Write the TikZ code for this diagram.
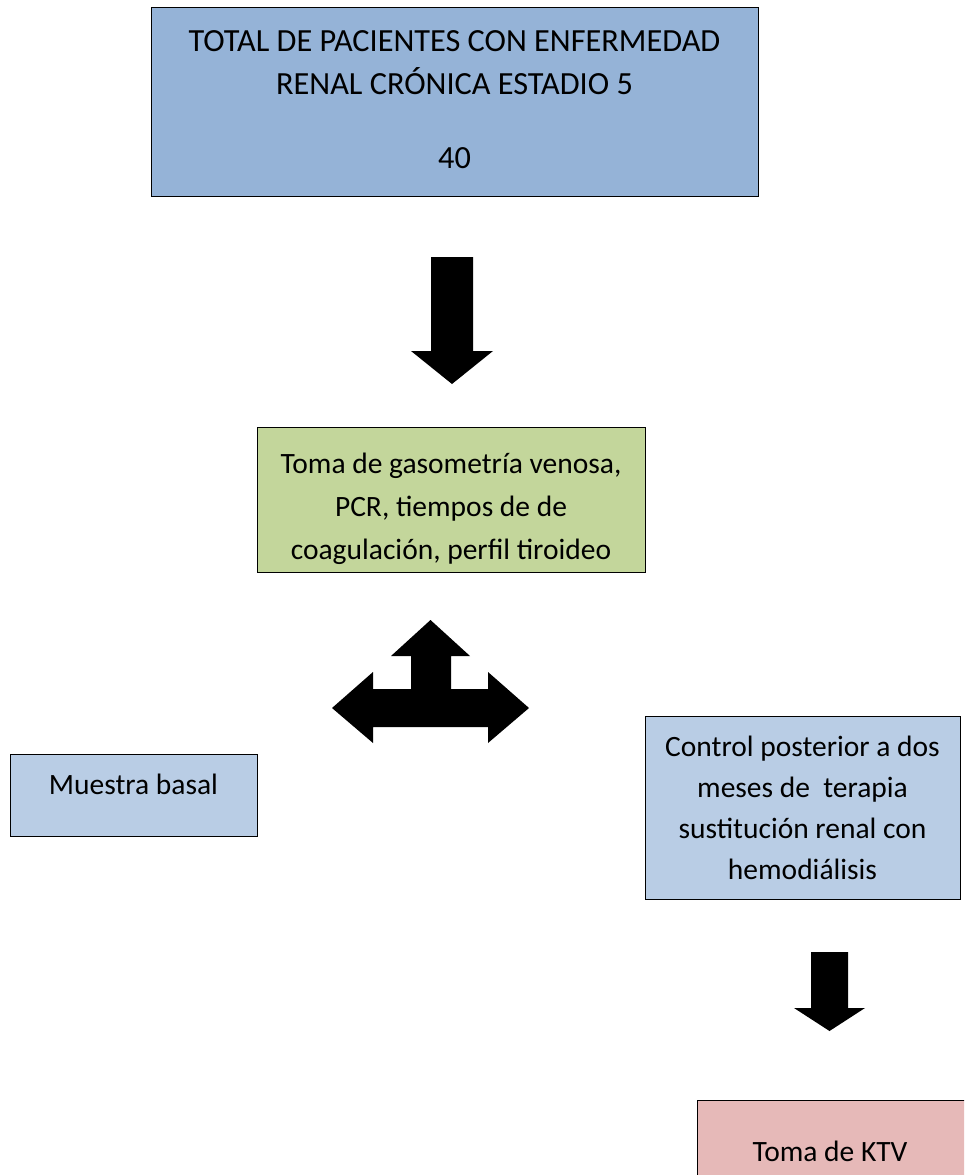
\documentclass[tikz,border=0pt]{standalone}
\usepackage{fontspec}
\setmainfont{Carlito}
\definecolor{topblue}{HTML}{95B3D7}
\definecolor{lightgreen}{HTML}{C3D69B}
\definecolor{lightblue}{HTML}{B9CDE5}
\definecolor{lightpink}{HTML}{E6B9B8}
\begin{document}
\begin{tikzpicture}[x=1pt,y=-1pt,
  box/.style={draw=black, line width=1.3pt, inner sep=0pt, anchor=north west},
  txt/.style={font=\fontsize{29.5}{43}\selectfont, align=center, inner sep=0pt, anchor=base},
  blockarrow/.style={fill=black, draw=none}]
\useasboundingbox (0,0) rectangle (964,1175);
\clip (0,0) rectangle (964,1175);
\fill[white] (0,0) rectangle (964,1175);
% boxes
\node[box, fill=topblue, minimum width=607pt, minimum height=189pt] (total) at (151,7) {};
\node[box, fill=lightgreen, minimum width=388pt, minimum height=145pt] (toma) at (257,427) {};
\node[box, fill=lightblue, minimum width=247pt, minimum height=82pt] (basal) at (10,754) {};
\node[box, fill=lightblue, minimum width=315pt, minimum height=183pt] (control) at (645,716) {};
\node[box, fill=lightpink, minimum width=290pt, minimum height=100pt] (ktv) at (697,1100) {};
% texts (anchor = baseline of last line)
\node[txt, font=\fontsize{32.3}{43}\selectfont] (totaltxt) at (454.5,168) {TOTAL DE PACIENTES CON ENFERMEDAD\\RENAL CRÓNICA ESTADIO 5\\[31pt]40};
\node[txt] (tomatxt) at (451,559) {Toma de gasometría venosa,\\PCR, tiempos de de\\coagulación, perfil tiroideo};
\node[txt] (basaltxt) at (133.5,794) {Muestra basal};
\node[txt, font=\fontsize{29.5}{40.7}\selectfont] (controltxt) at (802.5,879) {Control posterior a dos\\meses de\ \ terapia\\sustitución renal con\\hemodiálisis};
\node[txt] (ktvtxt) at (830,1161) {Toma de KTV};
% block arrows
\fill[blockarrow] (431,257) -- (473,257) -- (473,351) -- (493,351) -- (452,384) -- (411,351) -- (431,351) -- cycle;
\fill[blockarrow] (430.5,620) -- (470,656) -- (451,656) -- (451,689) -- (488,689) -- (488,672) -- (529,708) -- (488,743) -- (488,727) -- (373,727) -- (373,743) -- (332,708) -- (373,672) -- (373,689) -- (411,689) -- (411,656) -- (391,656) -- cycle;
\fill[blockarrow] (811,952) -- (848,952) -- (848,1008) -- (865,1008) -- (829.5,1031) -- (794,1008) -- (811,1008) -- cycle;
\end{tikzpicture}
\end{document}
